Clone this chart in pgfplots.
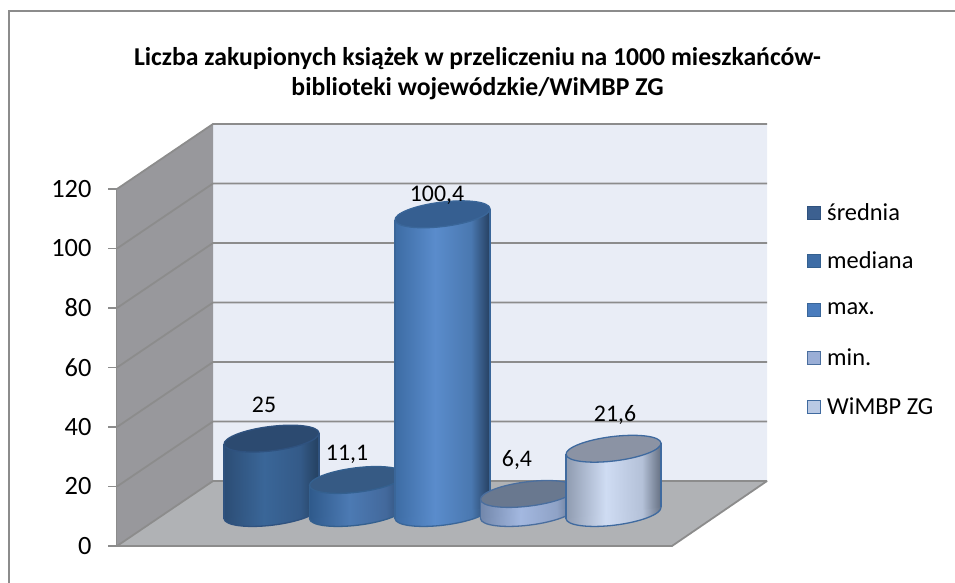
\documentclass[border=0pt]{standalone}
\usepackage{fontspec}
\setmainfont{Carlito}
\usepackage{pgfplots}
\pgfplotsset{compat=1.18}
\definecolor{gridc}{HTML}{8C8C8C}
\definecolor{wallc}{HTML}{98989C}
\definecolor{backc}{HTML}{E9EDF6}
\definecolor{floorc}{HTML}{B0B2B5}
\definecolor{a1}{HTML}{2C4D75}\definecolor{b1}{HTML}{3A6698}\definecolor{c1}{HTML}{345A88}\definecolor{d1}{HTML}{24405F}
\definecolor{a2}{HTML}{2F5A8C}\definecolor{b2}{HTML}{4C7AB3}\definecolor{c2}{HTML}{43699C}\definecolor{d2}{HTML}{2C4D75}
\definecolor{a3}{HTML}{3D6CA4}\definecolor{b3}{HTML}{5A8CCC}\definecolor{c3}{HTML}{4A78B0}\definecolor{d3}{HTML}{253F60}
\definecolor{a4}{HTML}{7287AB}\definecolor{b4}{HTML}{A3B8E0}\definecolor{c4}{HTML}{8FA2C6}\definecolor{d4}{HTML}{5F7088}
\definecolor{a5}{HTML}{8F9BB0}\definecolor{b5}{HTML}{CFDCF3}\definecolor{c5}{HTML}{B4C1D8}\definecolor{d5}{HTML}{657082}
\definecolor{o1}{HTML}{2F527F}\definecolor{o2}{HTML}{34608F}\definecolor{o3}{HTML}{3A6699}\definecolor{o4}{HTML}{4A6E9E}\definecolor{o5}{HTML}{3F6A9F}
\definecolor{t1}{HTML}{2C4A70}\definecolor{t2}{HTML}{365A84}\definecolor{t3}{HTML}{365F91}\definecolor{t4}{HTML}{69788F}\definecolor{t5}{HTML}{8B93A4}
\definecolor{l1}{HTML}{3C6090}\definecolor{l2}{HTML}{3E6DA6}\definecolor{l3}{HTML}{4A7CBD}\definecolor{l4}{HTML}{9AAED6}\definecolor{l5}{HTML}{B9C9E4}
\newcommand\declcyl[1]{%
  \pgfdeclarehorizontalshading{cyl#1}{100bp}{color(0bp)=(a#1);color(25bp)=(a#1);color(46bp)=(b#1);color(65bp)=(c#1);color(75bp)=(d#1);color(100bp)=(d#1)}%
  \pgfdeclareplotmark{base#1}{%
    \pgfpathellipse{\pgfpointorigin}{\pgfqpoint{47.48pt}{5.83pt}}{\pgfqpoint{-1.49pt}{12.11pt}}%
    \pgfshadepath{cyl#1}{0}\pgfusepath{stroke}}%
}
\declcyl{1}\declcyl{2}\declcyl{3}\declcyl{4}\declcyl{5}
\pgfdeclareplotmark{cap}{%
  \pgfpathellipse{\pgfpointorigin}{\pgfqpoint{47.48pt}{5.83pt}}{\pgfqpoint{-1.49pt}{12.11pt}}%
  \pgfusepath{fill,stroke}}
% #1 index, #2 centre x, #3 value, #4 #5 label offset
\newcommand\cyl[5]{%
  \pgfmathsetmacro\xl{#2-47.5}\pgfmathsetmacro\xr{#2+47.5}%
  \pgfmathsetmacro\ytl{#3-1.85}\pgfmathsetmacro\ytr{#3+1.85}%
  \addplot[forget plot,only marks,mark=base#1,mark options={draw=o#1,line width=1.3pt}] coordinates {(#2,0)};
  \addplot[forget plot,draw=none,shading=cyl#1] coordinates {(\xl,-1.85)(\xl,\ytl)(\xr,\ytr)(\xr,1.85)(\xl,-1.85)};
  \addplot[forget plot,draw=o#1,line width=1.3pt] coordinates {(\xl,-1.85)(\xl,\ytl)};
  \addplot[forget plot,draw=o#1,line width=1.3pt] coordinates {(\xr,1.85)(\xr,\ytr)};
  \addplot[forget plot,only marks,mark=cap,mark options={draw=o#1,fill=t#1,line width=1.3pt},
    point meta=y,nodes near coords,
    every node near coord/.style={anchor=center,xshift=#4pt,yshift=#5pt,text=black,font=\fontsize{23.8}{28}\selectfont,
      /pgf/number format/assume math mode=true,/pgf/number format/use comma,/pgf/number format/fixed,/pgf/number format/precision=1}]
    coordinates {(#2,#3)};
}
\newcommand\legsq[2]{\addlegendimage{legend image code/.code={\draw[fill=l#1,draw=o#1,line width=1.2pt] (1pt,-6.5pt) rectangle (14pt,6.5pt);}}\addlegendentry{#2}}
\begin{document}
\begin{tikzpicture}[x=1pt,y=1pt]
\path[use as bounding box] (0,0) rectangle (955,583);
\draw[color=gridc,line width=2pt] (9,0) -- (9,572) -- (955,572);
\node[align=center,font=\fontsize{25.7}{30}\selectfont\bfseries] at (477.5,509.5)
  {Liczba zakupionych książek w przeliczeniu na 1000 mieszkańców-\\biblioteki wojewódzkie/WiMBP ZG};
\begin{axis}[
  at={(117pt,37pt)},anchor=south west,scale only axis,width=650pt,height=357pt,
  xmin=117,xmax=767,ymin=0,ymax=120,clip=false,
  axis x line=none,axis y line*=left,
  axis line style={gridc,line width=2pt,-},
  ytick={0,20,40,60,80,100,120},
  tick align=outside,major tick length=9pt,
  tick style={gridc,line width=1.8pt},
  yticklabel style={font=\fontsize{26.4}{30}\selectfont,xshift=-13pt},
  /pgf/number format/assume math mode=true]
\addplot[fill=backc,draw=none] coordinates {(213,21.85)(767,21.85)(767,141.85)(213,141.85)(213,21.85)};
\addplot[fill=wallc,draw=none] coordinates {(117,0)(213,21.85)(213,141.85)(117,120)(117,0)};
\addplot[fill=floorc,draw=none] coordinates {(117,0)(213,21.85)(767,21.85)(672,0)(117,0)};
\addplot[gridc,line width=1.8pt] coordinates {(117,0)(213,21.85)(767,21.85)};
\addplot[gridc,line width=1.8pt] coordinates {(117,20)(213,41.85)(767,41.85)};
\addplot[gridc,line width=1.8pt] coordinates {(117,40)(213,61.85)(767,61.85)};
\addplot[gridc,line width=1.8pt] coordinates {(117,60)(213,81.85)(767,81.85)};
\addplot[gridc,line width=1.8pt] coordinates {(117,80)(213,101.85)(767,101.85)};
\addplot[gridc,line width=1.8pt] coordinates {(117,100)(213,121.85)(767,121.85)};
\addplot[gridc,line width=1.8pt] coordinates {(117,120)(213,141.85)(767,141.85)};
\addplot[gridc,line width=1.8pt] coordinates {(117,0)(672,0)(767,21.85)};
\end{axis}
\begin{axis}[
  at={(117pt,70pt)},anchor=south west,scale only axis,width=650pt,height=357pt,
  xmin=117,xmax=767,ymin=0,ymax=120,clip=false,clip mode=individual,hide axis,
  legend style={at={(axis cs:807,105)},anchor=north west,draw=none,fill=none,inner sep=0pt,outer sep=0pt,
    row sep=24.5pt,column sep=0pt,
    nodes={font=\fontsize{24.4}{28}\selectfont,inner sep=0pt,minimum height=24pt,anchor=west}},
  legend cell align=left,
  /tikz/every odd column/.append style={column sep=6pt}]
\cyl{1}{271.5}{25}{-7.5}{33.6}
\cyl{2}{357}{11.1}{-10}{26}
\cyl{3}{442.5}{100.4}{-5.5}{19}
\cyl{4}{528}{6.4}{-11}{34}
\cyl{5}{613.5}{21.6}{1.5}{33.7}
\legsq{1}{średnia}
\legsq{2}{mediana}
\legsq{3}{max.}
\legsq{4}{min.}
\legsq{5}{WiMBP ZG}
\end{axis}
\end{tikzpicture}
\end{document}
